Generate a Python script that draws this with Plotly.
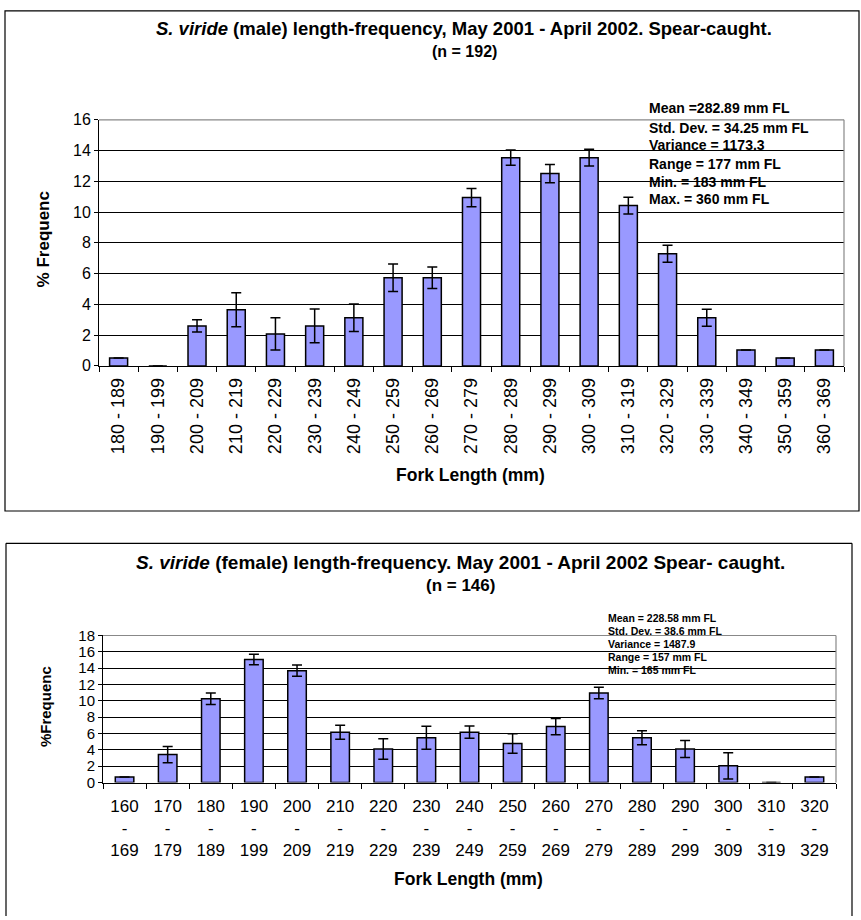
import plotly.graph_objects as go

W, H = 861, 920

# ---------------- data ----------------
male_bins = ["180 - 189", "190 - 199", "200 - 209", "210 - 219", "220 - 229", "230 - 239",
             "240 - 249", "250 - 259", "260 - 269", "270 - 279", "280 - 289", "290 - 299",
             "300 - 309", "310 - 319", "320 - 329", "330 - 339", "340 - 349", "350 - 359",
             "360 - 369"]
male_pct = [0.52, 0.0, 2.6, 3.65, 2.08, 2.6, 3.13, 5.73, 5.73, 10.94, 13.54, 12.5,
            13.54, 10.42, 7.29, 3.13, 1.04, 0.52, 1.04]
male_err = [0.0, 0.0, 0.4, 1.1, 1.05, 1.1, 0.9, 0.9, 0.7, 0.6, 0.5, 0.6,
            0.55, 0.55, 0.55, 0.55, 0.0, 0.0, 0.0]
male_stats = ["Mean =282.89 mm FL", "Std. Dev. = 34.25 mm FL", "Variance = 1173.3",
              "Range = 177 mm FL", "Min. = 183 mm FL", "Max. = 360 mm FL"]

female_bins = ["160 - 169", "170 - 179", "180 - 189", "190 - 199", "200 - 209", "210 - 219",
               "220 - 229", "230 - 239", "240 - 249", "250 - 259", "260 - 269", "270 - 279",
               "280 - 289", "290 - 299", "300 - 309", "310 - 319", "320 - 329"]
female_pct = [0.68, 3.42, 10.27, 15.07, 13.7, 6.16, 4.11, 5.48, 6.16, 4.79, 6.85, 10.96,
              5.48, 4.11, 2.05, 0.0, 0.68]
female_err = [0.0, 1.0, 0.7, 0.65, 0.7, 0.85, 1.25, 1.4, 0.75, 1.2, 1.0, 0.7,
              0.85, 1.05, 1.6, 0.0, 0.0]
female_stats = ["Mean = 228.58 mm FL", "Std. Dev. = 38.6 mm FL", "Variance = 1487.9",
                "Range = 157 mm FL", "Min. = 165 mm FL"]

# ---------------- helpers ----------------
FONT = "Arial, 'Liberation Sans', sans-serif"
def px(x):
    return x / W
def py(y):
    return 1 - y / H

BAR_FILL = "#9999FF"

fig = go.Figure()

fig.add_trace(go.Bar(
    x=male_bins, y=male_pct, xaxis="x", yaxis="y", width=0.46,
    marker=dict(color=BAR_FILL, line=dict(color="black", width=1.5)),
    error_y=dict(type="data", array=male_err, color="black", thickness=1.5, width=5),
    showlegend=False,
))
fig.add_trace(go.Bar(
    x=female_bins, y=female_pct, xaxis="x2", yaxis="y2", width=0.43,
    marker=dict(color=BAR_FILL, line=dict(color="black", width=1.5)),
    error_y=dict(type="data", array=female_err, color="black", thickness=1.5, width=5),
    showlegend=False,
))

common_x = dict(type="category", showline=True, linecolor="black", linewidth=1,
                ticks="outside", tickson="boundaries", ticklen=5, tickcolor="black",
                showgrid=False, zeroline=False, fixedrange=True)
common_y = dict(showline=True, linecolor="black", linewidth=1, ticks="outside", ticklen=4,
                tickcolor="black", showgrid=True, gridcolor="black", gridwidth=1,
                zeroline=False, dtick=2, fixedrange=True)

fig.update_layout(
    width=W, height=H,
    margin=dict(l=0, r=0, t=0, b=0),
    paper_bgcolor="white", plot_bgcolor="white",
    font=dict(family=FONT, color="black"),
    xaxis=dict(common_x, domain=[px(99), px(844)], anchor="y", tickangle=-90,
               tickfont=dict(size=18, family=FONT), ticklabelstandoff=4),
    yaxis=dict(common_y, domain=[py(364), py(113)], anchor="x", range=[0, 16],
               tickfont=dict(size=16, family=FONT)),
    xaxis2=dict(common_x, domain=[px(103), px(836)], anchor="y2", tickangle=0,
                tickfont=dict(size=17, family=FONT), ticklabelstandoff=8,
                tickvals=female_bins,
                ticktext=[b.replace(" - ", "<br>-<br>") for b in female_bins]),
    yaxis2=dict(common_y, domain=[py(789), py(639)], anchor="x2", range=[0, 18],
                tickfont=dict(size=15, family=FONT)),
)

shapes = []
# outer chart frames
shapes.append(dict(type="rect", xref="paper", yref="paper", x0=px(5), x1=px(859),
                   y0=py(512), y1=py(2), line=dict(color="black", width=1.2)))
for (x0, y0, x1, y1) in [(6, 545, 6, 925), (6, 545, 852, 545), (852, 545, 852, 925)]:
    shapes.append(dict(type="line", xref="paper", yref="paper", x0=px(x0), x1=px(x1),
                       y0=py(y0), y1=py(y1), line=dict(color="black", width=1.2)))
# plot-area borders (grey top and right)
for xa, ya in [("x", "y"), ("x2", "y2")]:
    shapes.append(dict(type="line", xref=xa + " domain", yref=ya + " domain",
                       x0=0, x1=1, y0=1, y1=1, line=dict(color="#888888", width=1.2)))
    shapes.append(dict(type="line", xref=xa + " domain", yref=ya + " domain",
                       x0=1, x1=1, y0=0, y1=1, line=dict(color="#888888", width=1.2)))
fig.update_layout(shapes=shapes)

ann = []
def text(x, y, s, size, bold=True, angle=0, xanchor="center"):
    ann.append(dict(xref="paper", yref="paper", x=px(x), y=py(y), text=(f"<b>{s}</b>" if bold else s),
                    showarrow=False, xanchor=xanchor, yanchor="middle", textangle=angle,
                    font=dict(family=FONT, size=size, color="black")))

# top chart titles
text(464, 20, "<i>S. viride</i> (male) length-frequency, May 2001 - April 2002. Spear-caught.", 18.5)
text(464, 43, "(n = 192)", 16)
text(43, 235, "% Frequenc", 17, angle=-90)
text(471, 475, "Fork Length (mm)", 17.5)
male_y = [101, 121, 139, 158, 176, 194]
for s, yy in zip(male_stats, male_y):
    text(647, yy, s, 14, xanchor="left")

# bottom chart titles
text(460, 565, "<i>S. viride</i> (female) length-frequency. May 2001 - April 2002 Spear- caught.", 19)
text(460, 588, "(n = 146)", 17)
text(45, 712, "%Frequenc", 15, angle=-90)
text(469, 887, "Fork Length (mm)", 17.5)
female_y = [621, 634, 648, 661, 674]
for s, yy in zip(female_stats, female_y):
    text(606, yy, s, 10.5, xanchor="left")

fig.update_layout(annotations=ann)

fig.write_html(
    "out.html",
    config={"displayModeBar": False},
    post_script="document.body.style.margin='0';document.body.style.overflow='hidden';",
)
